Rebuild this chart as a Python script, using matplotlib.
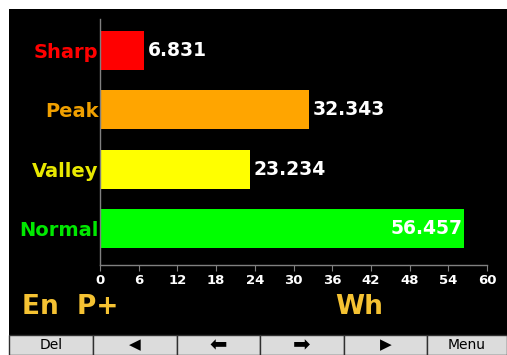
import matplotlib
matplotlib.use("Agg")
from matplotlib import pyplot as plt
from matplotlib.patches import Rectangle

# energy per tariff period
categories = ["Sharp", "Peak", "Valley", "Normal"]
values = [6.831, 32.343, 23.234, 56.457]
bar_colors = ["#ff0000", "#ffa500", "#ffff00", "#00ff00"]
label_colors = ["#ff0000", "#f0a000", "#e8e800", "#00e800"]
x_ticks = [0, 6, 12, 18, 24, 30, 36, 42, 48, 54, 60]
buttons = ["Del", "\u25C0", "\u2B05", "\u27A1", "\u25B6", "Menu"]
button_edges = [9, 93, 177, 260, 344, 427, 507]

W, H = 507, 355
fig = plt.figure(figsize=(W / 100, H / 100), dpi=100)
fig.patch.set_facecolor("white")

# black screen area
fig.add_artist(Rectangle((9 / W, 0), 1 - 9 / W, 1 - 9 / H, transform=fig.transFigure,
                         facecolor="black", edgecolor="none", zorder=0))

ax = fig.add_axes([100 / W, 90.3 / H, 387 / W, 245.7 / H])
ax.set_facecolor("black")
ax.patch.set_alpha(0)

ypos = list(range(len(categories)))
ax.barh(ypos, values, height=0.66, color=bar_colors, zorder=2)
ax.set_xlim(0, 60)
ax.set_ylim(3.61, -0.53)

for s in ["top", "right"]:
    ax.spines[s].set_visible(False)
for s in ["left", "bottom"]:
    ax.spines[s].set_color("#808080")
    ax.spines[s].set_linewidth(1)

ax.set_yticks(ypos)
ax.set_yticklabels(categories, fontsize=14, fontweight="bold")
for lbl, c in zip(ax.get_yticklabels(), label_colors):
    lbl.set_color(c)
ax.tick_params(axis="y", length=0, pad=1)

ax.set_xticks(x_ticks)
ax.set_xticklabels([str(t) for t in x_ticks], fontsize=9.5, fontweight="bold", color="white")
ax.tick_params(axis="x", length=4, color="#808080", pad=3)

for y, v in zip(ypos, values):
    if v > 50:
        ax.text(v - 0.2, y, "{:.3f}".format(v), color="white", fontsize=13.5,
                fontweight="bold", ha="right", va="center", zorder=3)
    else:
        ax.text(v + 0.6, y, "{:.3f}".format(v), color="white", fontsize=13.5,
                fontweight="bold", ha="left", va="center", zorder=3)

fig.text(22 / W, 1 - 307 / H, "En  P+", color="#f5c232", fontsize=19,
         fontweight="bold", ha="left", va="center")
fig.text(335 / W, 1 - 307 / H, "Wh", color="#f5c232", fontsize=19,
         fontweight="bold", ha="left", va="center")

# soft-key bar
top = 334.5
sizes = {"\u2B05": 15, "\u27A1": 15, "\u25C0": 11, "\u25B6": 11}
for i, name in enumerate(buttons):
    x0, x1 = button_edges[i], button_edges[i + 1]
    fig.add_artist(Rectangle((x0 / W, 0), (x1 - x0) / W, (H - top) / H,
                             transform=fig.transFigure, facecolor="#dcdcdc",
                             edgecolor="#303030", linewidth=1, zorder=1))
    fig.text((x0 + x1) / 2 / W, (H - 345) / H, name, color="black",
             fontsize=sizes.get(name, 10), ha="center", va="center",
             family=["DejaVu Sans"], zorder=2)

fig.savefig("out.png", dpi=100, facecolor=fig.get_facecolor())
